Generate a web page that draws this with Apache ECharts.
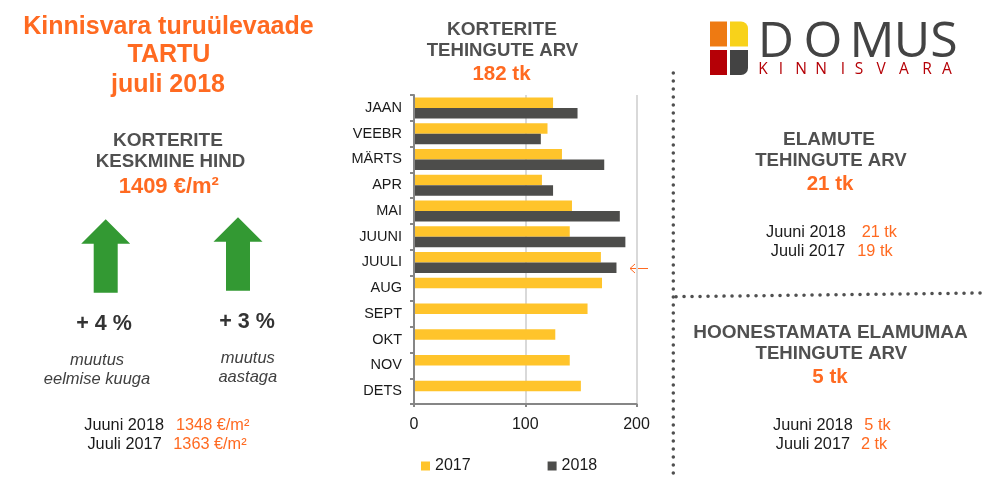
<!DOCTYPE html>
<html lang="et">
<head>
    <meta charset="UTF-8">
    <title>Kinnisvara turuülevaade</title>
    <script src="https://cdn.jsdelivr.net/npm/echarts@6/dist/echarts.min.js"></script>
    <style>
        html, body { margin: 0; padding: 0; background: #fff; }
        #main { width: 990px; height: 482px; }
    </style>
</head>
<body>
<div id="main"></div>
<script type="text/javascript">
    var months = ['JAAN', 'VEEBR', 'MÄRTS', 'APR', 'MAI', 'JUUNI', 'JUULI', 'AUG', 'SEPT', 'OKT', 'NOV', 'DETS'];
    var sales2017 = [125, 120, 133, 115, 142, 140, 168, 169, 156, 127, 140, 150];
    var sales2018 = [147, 114, 171, 125, 185, 190, 182, null, null, null, null, null];

    var ORANGE = '#ff6a21';
    var HEAD = '#505050';
    var BLACK = '#1a1a1a';
    var ITALIC = '#404040';
    var FONT = '"Liberation Sans", Arial, sans-serif';

    function txt(x, y, text, size, color, bold, italic, align) {
        return {
            type: 'text',
            silent: true,
            style: {
                x: x, y: y, text: text,
                fontFamily: FONT,
                fontSize: size,
                fontWeight: bold ? 'bold' : 'normal',
                fontStyle: italic ? 'italic' : 'normal',
                fill: color,
                textAlign: align || 'center',
                textVerticalAlign: 'middle'
            }
        };
    }

    function upArrow(cx, top) {
        return {
            type: 'polygon',
            silent: true,
            shape: {
                points: [[cx, top], [cx + 24.5, top + 24.5], [cx + 12, top + 24.5], [cx + 12, top + 73.5],
                    [cx - 12, top + 73.5], [cx - 12, top + 24.5], [cx - 24.5, top + 24.5]]
            },
            style: { fill: '#339933' }
        };
    }

    function dotted(x1, y1, x2, y2) {
        return {
            type: 'line',
            silent: true,
            shape: { x1: x1, y1: y1, x2: x2, y2: y2 },
            style: { stroke: '#505050', lineWidth: 3.5, lineCap: 'round', lineDash: [0.1, 7.9] }
        };
    }

    var logo = [
        { type: 'rect', silent: true, shape: { x: 710, y: 21.5, width: 17, height: 25 }, style: { fill: '#ee7a12' } },
        { type: 'rect', silent: true, shape: { x: 730, y: 21.5, width: 18, height: 25, r: [0, 7, 0, 0] }, style: { fill: '#f8d21a' } },
        { type: 'rect', silent: true, shape: { x: 710, y: 50, width: 17, height: 25 }, style: { fill: '#b50006' } },
        { type: 'rect', silent: true, shape: { x: 730, y: 50, width: 18, height: 25, r: [0, 0, 7, 0] }, style: { fill: '#434343' } }
    ];
    var logoName = ['D', 'O', 'M', 'U', 'S'];
    var logoNameX = [776, 823, 872, 912, 944];
    logoName.forEach(function (ch, i) {
        logo.push({
            type: 'text', silent: true,
            style: { x: logoNameX[i], y: 43, text: ch, fontFamily: '"Open Sans", sans-serif', fontSize: 50, fill: '#434343', textAlign: 'center', textVerticalAlign: 'middle' }
        });
    });
    var logoSub = ['K', 'I', 'N', 'N', 'I', 'S', 'V', 'A', 'R', 'A'];
    var logoSubX = [763, 781, 801, 821, 843, 859, 881, 904, 927, 947];
    logoSub.forEach(function (ch, i) {
        logo.push({
            type: 'text', silent: true,
            style: { x: logoSubX[i], y: 70, text: ch, fontFamily: '"Open Sans", sans-serif', fontSize: 15.5, fill: '#b50006', textAlign: 'center', textVerticalAlign: 'middle' }
        });
    });

    var myChart = echarts.init(document.getElementById('main'));
    var option = {
        animation: false,
        backgroundColor: '#ffffff',
        textStyle: { fontFamily: FONT },
        grid: { left: 414, top: 95, width: 222.5, height: 309 },
        legend: {
            left: 421, top: 458, padding: 0,
            itemWidth: 9, itemHeight: 9, itemGap: 77,
            icon: 'rect',
            textStyle: { fontFamily: FONT, fontSize: 16, color: BLACK },
            data: ['2017', '2018']
        },
        xAxis: {
            type: 'value', min: 0, max: 200, interval: 100,
            axisLine: { show: true, lineStyle: { color: '#868686', width: 2 } },
            axisTick: { show: true, length: 3, lineStyle: { color: '#868686', width: 2 } },
            splitLine: { show: true, lineStyle: { color: '#d9d9d9', width: 2 } },
            axisLabel: { fontFamily: FONT, fontSize: 16, color: BLACK, margin: 13, showMinLabel: true, showMaxLabel: true }
        },
        yAxis: {
            type: 'category', inverse: true, data: months, z: 5,
            axisLine: { show: true, lineStyle: { color: '#868686', width: 2 } },
            axisTick: { show: true, length: 4, alignWithLabel: false, lineStyle: { color: '#868686', width: 2 } },
            axisLabel: { fontFamily: FONT, fontSize: 14.5, color: BLACK, margin: 12 }
        },
        series: [
            { name: '2017', type: 'bar', data: sales2017, barWidth: 10.5, barGap: '0%', itemStyle: { color: '#ffc42b' } },
            { name: '2018', type: 'bar', data: sales2018, barWidth: 10.5, barGap: '0%', itemStyle: { color: '#4d4d4b' } }
        ],
        graphic: { elements: [
            txt(168.5, 27, 'Kinnisvara turuülevaade', 25, ORANGE, true),
            txt(169, 55.5, 'TARTU', 25, ORANGE, true),
            txt(168, 85, 'juuli 2018', 25, ORANGE, true),

            txt(168, 140.5, 'KORTERITE', 19, HEAD, true),
            txt(170.5, 162, 'KESKMINE HIND', 18.7, HEAD, true),
            txt(168.8, 187, '1409 €/m²', 22, ORANGE, true),

            upArrow(105.7, 219.3),
            upArrow(238, 217.3),
            txt(104, 324, '+ 4 %', 21.5, '#333333', true),
            txt(247, 322, '+ 3 %', 21.5, '#333333', true),
            txt(97, 360, 'muutus', 16.5, ITALIC, false, true),
            txt(97, 379, 'eelmise kuuga', 16.5, ITALIC, false, true),
            txt(247.8, 358, 'muutus', 16.5, ITALIC, false, true),
            txt(247.8, 377.5, 'aastaga', 16.5, ITALIC, false, true),

            txt(164, 425.5, 'Juuni 2018', 16.3, BLACK, false, false, 'right'),
            txt(176, 425.5, '1348 €/m²', 16.3, ORANGE, false, false, 'left'),
            txt(161.7, 444.5, 'Juuli 2017', 16.3, BLACK, false, false, 'right'),
            txt(173.3, 444.5, '1363 €/m²', 16.3, ORANGE, false, false, 'left'),

            txt(502, 29.5, 'KORTERITE', 19, HEAD, true),
            txt(502.5, 50.5, 'TEHINGUTE ARV', 18.6, HEAD, true),
            txt(501.5, 74, '182 tk', 20.5, ORANGE, true),

            { type: 'polyline', silent: true, shape: { points: [[635, 264], [630, 268.5], [635, 273]] }, style: { stroke: ORANGE, fill: 'none', lineWidth: 1 } },
            { type: 'line', silent: true, shape: { x1: 630, y1: 268.5, x2: 648, y2: 268.5 }, style: { stroke: ORANGE, lineWidth: 1 } },

            dotted(673.3, 73, 673.3, 478),
            dotted(676, 296.7, 981, 293),

            txt(829, 139.5, 'ELAMUTE', 19, HEAD, true),
            txt(831, 160.5, 'TEHINGUTE ARV', 18.6, HEAD, true),
            txt(830, 184, '21 tk', 20.5, ORANGE, true),
            txt(845.7, 232.5, 'Juuni 2018', 16.3, BLACK, false, false, 'right'),
            txt(861.7, 232.5, '21 tk', 16.3, ORANGE, false, false, 'left'),
            txt(845, 252, 'Juuli 2017', 16.3, BLACK, false, false, 'right'),
            txt(857.3, 252, '19 tk', 16.3, ORANGE, false, false, 'left'),

            txt(830.5, 333, 'HOONESTAMATA ELAMUMAA', 19, HEAD, true),
            txt(831.3, 354, 'TEHINGUTE ARV', 18.6, HEAD, true),
            txt(830, 377.5, '5 tk', 20.5, ORANGE, true),
            txt(852.7, 426, 'Juuni 2018', 16.3, BLACK, false, false, 'right'),
            txt(864.3, 426, '5 tk', 16.3, ORANGE, false, false, 'left'),
            txt(850, 444.5, 'Juuli 2017', 16.3, BLACK, false, false, 'right'),
            txt(861, 444.5, '2 tk', 16.3, ORANGE, false, false, 'left')
        ].concat(logo) }
    };
    myChart.setOption(option);
</script>
</body>
</html>
